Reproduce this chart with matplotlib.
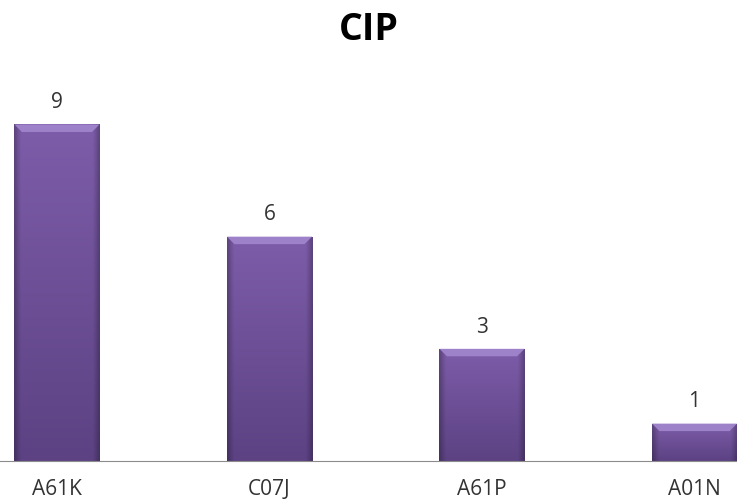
import numpy as np
import matplotlib.pyplot as plt
from matplotlib.colors import LinearSegmentedColormap

categories = ['A61K', 'C07J', 'A61P', 'A01N']
values = [9, 6, 3, 1]

plt.rcParams['font.family'] = ['Open Sans', 'DejaVu Sans']

fig = plt.figure(figsize=(7.37, 5.04), dpi=100)
ax = fig.add_axes([0, 43 / 504, 1, 381 / 504])

x = np.arange(len(categories))
bar_width = 0.4
bars = ax.bar(x, values, width=bar_width, color='#6d519a', zorder=2)

# gradient fill inside each bar (lighter at top, darker at bottom), darker sides
vert = LinearSegmentedColormap.from_list('v', ['#5c4283', '#7d5ca9'])
grad = np.linspace(0, 1, 100).reshape(-1, 1)
side = np.abs(np.linspace(-1, 1, 60))
shade = np.clip((side - 0.85) / 0.15, 0, 1)
for bar in bars:
    x0, y0 = bar.get_x(), bar.get_y()
    w, h = bar.get_width(), bar.get_height()
    img = vert(np.repeat(grad, 60, axis=1))
    img[..., :3] *= (1 - 0.25 * shade)[None, :, None]
    im = ax.imshow(img, extent=[x0, x0 + w, y0, y0 + h], origin='lower',
                   aspect='auto', zorder=3)
    im.set_clip_path(bar)
    # bevel highlight on top
    bev = 0.2
    ax.fill([x0, x0 + w, x0 + w - 0.035, x0 + 0.035],
            [y0 + h, y0 + h, y0 + h - bev, y0 + h - bev],
            color='#9d82c9', zorder=4, lw=0)
    ax.text(x0 + w / 2, y0 + h + 0.3, str(int(h)), ha='center', va='bottom',
            fontsize=15, color='#333333')

ax.set_xlim(-0.268, 3.2)
ax.set_ylim(0, 10.19)
ax.set_xticks(x)
ax.set_xticklabels(categories, fontsize=15, color='#333333')
ax.tick_params(axis='x', length=0, pad=13)
ax.set_yticks([])
for s in ['top', 'right', 'left']:
    ax.spines[s].set_visible(False)
ax.spines['bottom'].set_color('#8c8c8c')
ax.spines['bottom'].set_zorder(5)

fig.text(0.5, 1 - 30 / 504, 'CIP', ha='center', va='center', fontsize=27,
         fontweight='bold', color='black')

fig.savefig('out.png', dpi=100)
